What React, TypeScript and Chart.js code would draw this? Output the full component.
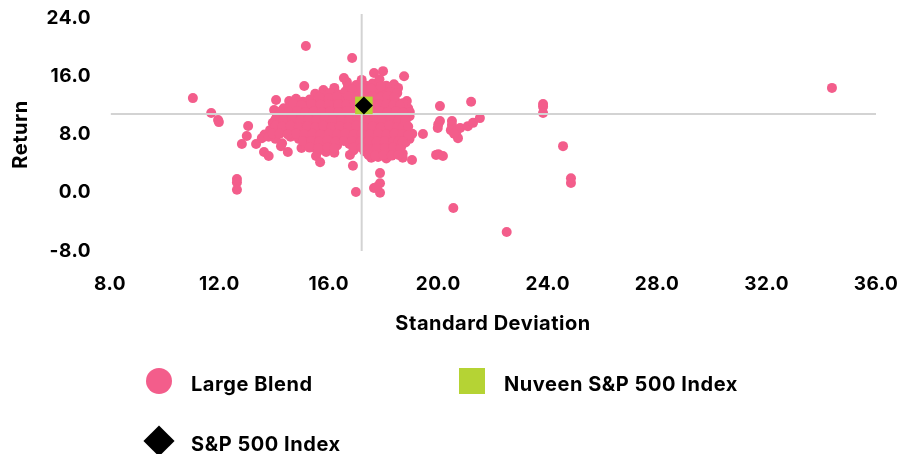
import React, { useEffect, useRef } from "react";
import { Chart, registerables } from "chart.js";

Chart.register(...registerables);

const FONT = "Inter";
const PINK = "#F35D8B";
const GREEN = "#B5D334";
const BLACK = "#000000";
const GREY = "#D3D3D3";

const xTicksMin = 8;
const xTicksMax = 36;
const yTicksMin = -8;
const yTicksMax = 24;

const outliers: [number, number][] = [
  [11.03, 13.0], [11.7, 10.95], [11.95, 10.0], [11.98, 9.7], [13.05, 9.16], [13.0, 7.8], [12.82, 6.7],
  [12.64, 1.9], [12.64, 1.4], [12.64, 0.4], [13.34, 6.7], [13.63, 5.6], [13.8, 5.05], [14.29, 6.8], [14.25, 6.4],
  [14.5, 5.6], [15.0, 6.15], [14.0, 11.35], [14.07, 12.74], [15.16, 20.15], [16.85, 18.5], [17.98, 16.7],
  [17.65, 16.45], [18.75, 16.0], [16.55, 15.75], [16.66, 15.2], [15.1, 14.65], [17.2, 15.5], [15.8, 14.1],
  [16.2, 14.4], [18.38, 14.9], [18.53, 14.4], [18.85, 12.6], [18.9, 11.6], [18.96, 11.1], [19.44, 8.07],
  [15.53, 5.05], [15.68, 4.2], [16.77, 5.2], [16.88, 3.7], [19.04, 4.5], [17.87, 2.7], [17.87, 1.3], [17.65, 0.65],
  [17.87, 0.0], [16.99, 0.1], [17.75, 0.8], [20.06, 11.9], [21.2, 12.5], [23.83, 12.2], [23.83, 11.8], [23.83, 10.95],
  [20.06, 9.85], [20.0, 9.4], [19.98, 8.9], [19.92, 5.2], [20.0, 5.3], [20.17, 5.05], [20.5, 9.85], [20.5, 9.3],
  [20.46, 8.6], [20.66, 8.35], [20.8, 8.9], [20.72, 7.5], [20.58, 8.1], [21.08, 9.15], [21.27, 9.6], [21.52, 10.25],
  [24.56, 6.4], [24.85, 2.0], [24.85, 1.33], [20.55, -2.1], [22.5, -5.4], [34.39, 14.4],
];

const cloudUpper: [number, number][] = [
  [16.7, 14.6], [17.0, 14.8], [17.35, 14.7], [17.6, 15.0], [17.85, 15.6], [18.1, 14.7], [18.3, 14.2],
  [15.5, 13.6], [15.75, 13.4], [16.05, 13.7], [16.35, 13.5], [16.6, 13.9], [16.9, 13.6], [17.15, 14.0], [17.45, 13.7],
  [17.75, 14.0], [18.0, 13.6], [18.25, 13.8], [18.5, 13.7],
  [14.55, 12.6], [14.8, 12.9], [15.05, 12.5], [15.3, 12.8], [15.6, 12.5], [15.9, 12.7], [16.2, 12.6], [16.5, 12.9],
  [16.8, 12.6], [17.05, 12.9], [17.35, 12.5], [17.65, 12.8], [17.95, 12.6], [18.2, 12.9], [18.45, 12.5], [18.7, 12.3],
  [14.35, 11.6], [14.6, 11.9], [14.9, 11.5], [15.2, 11.8], [15.5, 11.5], [15.8, 11.8], [16.1, 11.5], [16.4, 11.8],
  [16.7, 11.5], [17.0, 11.8], [17.3, 11.4], [17.6, 11.7], [17.9, 11.5], [18.2, 11.8], [18.5, 11.4], [18.6, 11.7],
  [14.1, 10.5], [14.35, 10.8], [14.65, 10.5], [14.95, 10.7], [15.25, 10.4], [15.55, 10.7], [15.85, 10.5], [16.15, 10.8],
  [16.45, 10.4], [16.75, 10.7], [17.05, 10.5], [17.35, 10.8], [17.65, 10.4], [17.95, 10.7], [18.25, 10.5], [18.55, 10.7],
  [18.75, 10.4], [18.95, 10.5],
];

const cloudLower: [number, number][] = [
  [13.95, 9.6], [14.2, 9.8], [14.5, 9.5], [14.8, 9.7], [15.1, 9.4], [15.4, 9.7], [15.7, 9.5], [16.0, 9.8], [16.3, 9.4],
  [16.6, 9.7], [16.9, 9.5], [17.2, 9.8], [17.5, 9.4], [17.8, 9.7], [18.1, 9.5], [18.4, 9.7], [18.65, 9.4], [18.8, 9.8],
  [13.85, 8.6], [14.1, 8.8], [14.35, 8.5], [14.65, 8.7], [14.95, 8.4], [15.25, 8.7], [15.55, 8.5], [15.85, 8.7], [16.15, 8.4],
  [16.45, 8.7], [16.75, 8.5], [17.05, 8.8], [17.35, 8.4], [17.65, 8.7], [17.95, 8.5], [18.25, 8.7], [18.55, 8.4], [18.8, 8.6], [19.05, 8.1],
  [13.65, 8.0], [13.55, 7.5], [13.8, 7.7], [14.05, 7.4], [14.6, 7.7], [14.9, 7.4], [15.2, 7.7], [15.5, 7.5], [15.8, 7.7], [16.1, 7.4],
  [16.4, 7.7], [16.7, 7.5], [17.0, 7.7], [17.3, 7.4], [17.6, 7.7], [17.9, 7.5], [18.2, 7.7], [18.5, 7.4], [18.7, 7.7], [18.95, 7.4],
  [15.15, 6.6], [15.45, 6.8], [15.75, 6.5], [16.05, 6.7], [16.3, 6.5], [16.75, 6.7], [17.0, 6.5], [17.3, 6.7], [17.6, 6.4],
  [17.9, 6.7], [18.2, 6.5], [18.5, 6.7], [18.65, 6.4], [18.8, 6.9],
  [15.6, 5.7], [15.9, 5.6], [16.2, 5.5], [16.9, 5.8], [17.3, 5.7], [17.55, 5.5], [17.85, 5.7], [18.15, 5.5], [18.45, 5.7], [18.7, 5.4],
  [17.55, 4.8], [17.8, 4.9], [18.1, 4.7], [18.7, 4.8],
];

const cloudFill: [number, number][] = [
  [16.85, 14.2], [17.2, 14.4], [17.55, 14.3], [17.9, 14.6], [15.65, 13.1], [16.0, 13.0], [16.3, 13.2], [16.7, 13.2], [17.0, 13.2],
  [17.3, 13.1], [17.6, 13.3], [17.9, 13.1], [18.15, 13.3], [18.4, 13.1], [14.7, 12.2], [15.0, 12.0], [15.35, 12.2], [15.7, 12.1],
  [16.0, 12.1], [16.35, 12.2], [16.65, 12.1], [16.95, 12.3], [17.5, 12.1], [17.8, 12.2], [18.1, 12.2], [18.35, 12.0], [18.6, 12.0],
  [14.25, 11.2], [14.55, 11.1], [14.85, 11.2], [15.15, 11.1], [15.45, 11.2], [15.75, 11.1], [16.05, 11.2], [16.35, 11.1], [16.65, 11.2],
  [16.95, 11.1], [17.25, 11.2], [17.55, 11.1], [17.85, 11.2], [18.15, 11.1], [18.45, 11.2], [18.7, 11.0],
  [14.05, 10.1], [14.35, 10.0], [14.65, 10.2], [14.95, 10.0], [15.25, 10.1], [15.55, 10.0], [15.85, 10.2], [16.15, 10.0], [16.45, 10.1],
  [16.75, 10.0], [17.05, 10.2], [17.35, 10.0], [17.65, 10.1], [17.95, 10.0], [18.25, 10.2], [18.55, 10.0], [18.8, 10.0],
  [14.05, 9.2], [14.3, 9.1], [14.6, 9.2], [14.9, 9.0], [15.2, 9.1], [15.5, 9.0], [15.8, 9.2], [16.1, 9.0], [16.4, 9.1], [16.7, 9.0],
  [17.0, 9.2], [17.3, 9.0], [17.6, 9.1], [17.9, 9.0], [18.2, 9.2], [18.5, 9.0], [18.7, 9.0], [18.9, 9.1],
  [13.95, 8.1], [14.2, 8.1], [14.5, 8.0], [14.8, 8.1], [15.1, 8.0], [15.4, 8.1], [15.7, 8.0], [16.0, 8.1], [16.3, 8.0], [16.6, 8.1],
  [16.9, 8.0], [17.2, 8.1], [17.5, 8.0], [17.8, 8.1], [18.1, 8.0], [18.4, 8.1], [18.7, 8.0], [18.9, 7.9],
  [15.05, 7.1], [15.35, 7.1], [15.65, 7.0], [15.95, 7.2], [16.25, 7.0], [16.55, 7.1], [16.85, 7.1], [17.15, 7.0], [17.45, 7.1], [17.75, 7.0],
  [18.05, 7.1], [18.35, 7.0], [18.55, 7.1], [18.7, 7.0],
  [15.3, 6.2], [15.6, 6.1], [15.95, 6.2], [16.2, 6.1], [16.9, 6.2], [17.2, 6.2], [17.45, 6.0], [17.75, 6.1], [18.05, 6.1], [18.35, 6.2], [18.6, 6.0],
  [17.45, 5.2], [17.7, 5.1], [18.0, 5.2], [18.3, 5.1], [18.55, 5.2],
];

const nuveenPoint = [{ x: 17.28, y: 12.0 }];
const sp500Point = [{ x: 17.28, y: 12.0 }];
const verticalAxisLine = [{ x: 17.2, y: -8 }, { x: 17.2, y: 24.55 }];
const horizontalAxisLine = [{ x: 8.03, y: 10.83 }, { x: 36, y: 10.83 }];

const toPoints = (rows: [number, number][]) => rows.map(([x, y]) => ({ x, y }));
const largeBlendPoints = [...outliers, ...cloudUpper, ...cloudLower, ...cloudFill];

const legendText: React.CSSProperties = {
  position: "absolute",
  font: `700 20px ${FONT}, sans-serif`,
  letterSpacing: "0.55px",
  color: BLACK,
  lineHeight: "22px",
  whiteSpace: "nowrap",
};

const spacingPlugin = {
  id: "textSpacing",
  beforeDraw(chart: any) {
    chart.ctx.letterSpacing = "0.5px";
  },
};

export default function App() {
  const ref = useRef<HTMLCanvasElement>(null);

  useEffect(() => {
    document.body.style.margin = "0";
    const tickFont = { family: FONT, size: 19, weight: 700 as const };
    const titleFont = { family: FONT, size: 20, weight: 700 as const };
    const chart = new Chart(ref.current!, {
      type: "scatter",
      data: {
        datasets: [
          { label: "S&P 500 Index", data: sp500Point, pointStyle: "rectRot", pointRadius: 9, backgroundColor: BLACK, borderWidth: 0 },
          { label: "Nuveen S&P 500 Index", data: nuveenPoint, pointStyle: "rect", pointRadius: 12.4, backgroundColor: GREEN, borderWidth: 0 },
          { label: "vertical", data: verticalAxisLine, showLine: true, pointRadius: 0, borderColor: GREY, borderWidth: 2 },
          { label: "horizontal", data: horizontalAxisLine, showLine: true, pointRadius: 0, borderColor: GREY, borderWidth: 2 },
          { label: "Large Blend", data: toPoints(largeBlendPoints), pointRadius: 5, backgroundColor: PINK, borderWidth: 0 },
        ],
      },
      options: {
        animation: false,
        responsive: false,
        clip: false,
        layout: { padding: { top: 18, right: 23, bottom: 118 } },
        plugins: { legend: { display: false }, tooltip: { enabled: false } },
        scales: {
          x: {
            type: "linear",
            min: xTicksMin,
            max: xTicksMax,
            grid: { display: false },
            border: { display: false },
            afterFit: (s: any) => { s.height = 85; s.paddingLeft = 0; s.paddingRight = 0; },
            ticks: {
              stepSize: 4,
              font: tickFont,
              color: BLACK,
              padding: 14,
              maxRotation: 0,
              callback: (v: any) => Number(v).toFixed(1),
            },
            title: { display: true, text: "Standard Deviation", font: titleFont, color: BLACK, padding: { top: 16, bottom: 0 } },
          },
          y: {
            type: "linear",
            min: yTicksMin,
            max: yTicksMax,
            grid: { display: false },
            border: { display: false },
            afterFit: (s: any) => { s.width = 110; s.paddingTop = 0; s.paddingBottom = 0; },
            ticks: {
              stepSize: 8,
              font: tickFont,
              color: BLACK,
              padding: 11,
              callback: (v: any) => Number(v).toFixed(1),
            },
            title: { display: true, text: "Return", font: titleFont, color: BLACK, padding: { top: 9, bottom: 0 } },
          },
        },
      },
      plugins: [spacingPlugin],
    } as any);
    return () => chart.destroy();
  }, []);

  return (
    <div style={{ position: "absolute", left: 0, top: 0, width: 899, height: 454, overflow: "hidden" }}>
      <canvas ref={ref} width={899} height={454} style={{ display: "block" }} />
      <div style={{ position: "absolute", left: 146, top: 368, width: 26, height: 26, borderRadius: "50%", background: PINK }} />
      <div style={{ ...legendText, left: 191, top: 373 }}>Large Blend</div>
      <div style={{ position: "absolute", left: 459, top: 368, width: 26, height: 26, background: GREEN }} />
      <div style={{ ...legendText, left: 504, top: 373 }}>Nuveen S&amp;P 500 Index</div>
      <div style={{ position: "absolute", left: 148, top: 430, width: 22, height: 22, background: BLACK, transform: "rotate(45deg)" }} />
      <div style={{ ...legendText, left: 191, top: 433 }}>S&amp;P 500 Index</div>
    </div>
  );
}
